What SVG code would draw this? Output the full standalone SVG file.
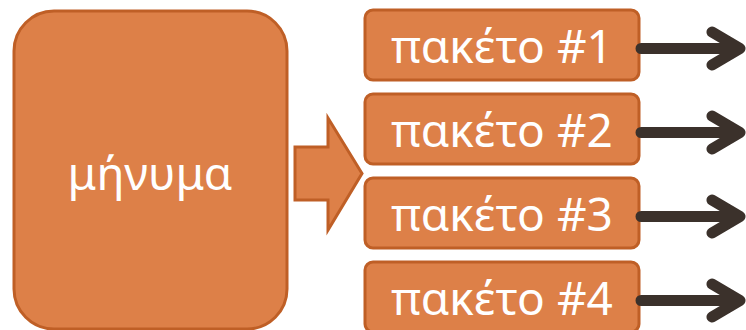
<svg xmlns="http://www.w3.org/2000/svg" width="746" height="330" viewBox="0 0 746 330">
<style>
.box{fill:#dd8048;stroke:#bf5f26;stroke-width:3}
.lbl{fill:#ffffff;font-family:"Noto Sans","Open Sans",sans-serif;text-anchor:middle}
.con{fill:none;stroke:#3b312b;stroke-width:11;stroke-linecap:round;stroke-linejoin:round}
</style>
<rect width="746" height="330" fill="#ffffff"/>
<g id="message">
<rect class="box" x="14" y="11" width="273" height="318" rx="40" ry="40"/>
<text class="lbl" x="150" y="190" font-size="46">μήνυμα</text>
</g>
<g id="split-arrow">
<path class="box" d="M295,147 H328 V118 L362,173.5 L328,230 V200 H295 Z"/>
</g>
<g id="packet1">
<rect class="box" x="365" y="10" width="274" height="70" rx="8" ry="8"/>
<text class="lbl" x="502" y="63" font-size="46">πακέτο #1</text>
</g>
<g id="packet2">
<rect class="box" x="365" y="94" width="274" height="70" rx="8" ry="8"/>
<text class="lbl" x="502" y="147" font-size="46">πακέτο #2</text>
</g>
<g id="packet3">
<rect class="box" x="365" y="178" width="274" height="70" rx="8" ry="8"/>
<text class="lbl" x="502" y="231" font-size="46">πακέτο #3</text>
</g>
<g id="packet4">
<rect class="box" x="365" y="262" width="274" height="70" rx="8" ry="8"/>
<text class="lbl" x="502" y="315" font-size="46">πακέτο #4</text>
</g>
<g id="connectors">
<path class="con" d="M641,48.5 H738 M712,32 L740,48.5 L712,65"/>
<path class="con" d="M641,132.5 H738 M712,116 L740,132.5 L712,149"/>
<path class="con" d="M641,216.5 H738 M712,200 L740,216.5 L712,233"/>
<path class="con" d="M641,300.5 H738 M712,284 L740,300.5 L712,317"/>
</g>
</svg>
